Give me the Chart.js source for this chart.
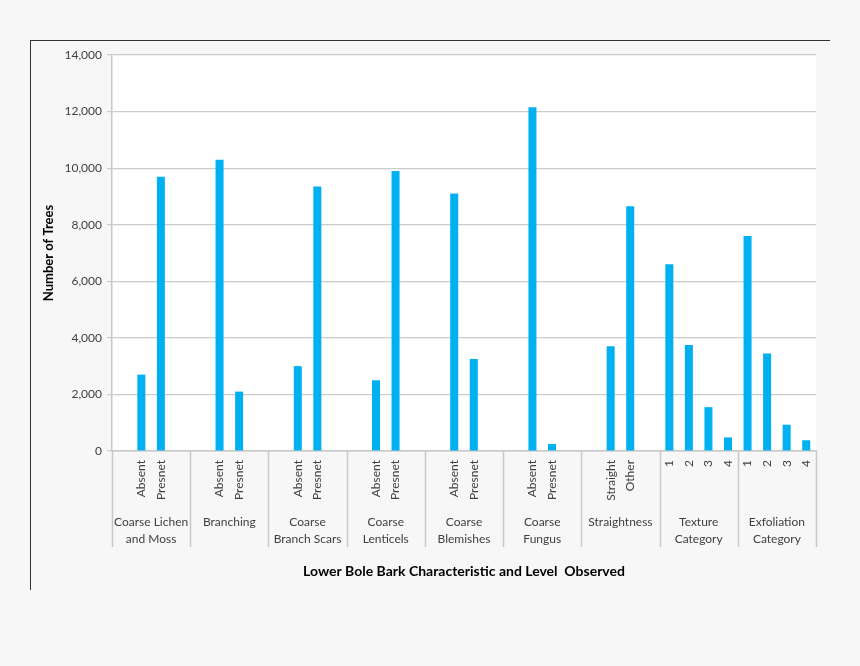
<!DOCTYPE html>
<html>
<head>
<meta charset="utf-8">
<script src="https://cdn.jsdelivr.net/npm/chart.js@4/dist/chart.umd.min.js"></script>
<style>
  html, body { margin: 0; padding: 0; background: #f7f7f7; }
  #wrap { position: relative; width: 860px; height: 666px; }
  #frame { position: absolute; left: 30px; top: 40px; width: 800px; height: 550px;
           border-top: 1px solid #333; border-left: 1px solid #333; box-sizing: border-box; pointer-events: none; }
  canvas { position: absolute; left: 0; top: 0; }
</style>
</head>
<body>
<div id="wrap">
  <canvas id="c" width="860" height="666"></canvas>
  <div id="frame"></div>
</div>
<script>
// ---- data ----
const groupNames = [
  ["Coarse Lichen", "and Moss"],
  ["Branching"],
  ["Coarse", "Branch Scars"],
  ["Coarse", "Lenticels"],
  ["Coarse", "Blemishes"],
  ["Coarse", "Fungus"],
  ["Straightness"],
  ["Texture", "Category"],
  ["Exfoliation", "Category"]
];
const slotsPerGroup = 4;
const levelLabels = [
  "", "Absent", "Presnet", "",
  "", "Absent", "Presnet", "",
  "", "Absent", "Presnet", "",
  "", "Absent", "Presnet", "",
  "", "Absent", "Presnet", "",
  "", "Absent", "Presnet", "",
  "", "Straight", "Other", "",
  "1", "2", "3", "4",
  "1", "2", "3", "4"
];
const treeCounts = [
  null, 2700, 9700, null,
  null, 10300, 2100, null,
  null, 3000, 9350, null,
  null, 2500, 9900, null,
  null, 9100, 3250, null,
  null, 12150, 250, null,
  null, 3700, 8650, null,
  6600, 3750, 1550, 480,
  7600, 3450, 930, 380
];
const yMax = 14000;
const yStep = 2000;
const xTitle = "Lower Bole Bark Characteristic and Level  Observed";
const yTitle = "Number of Trees";

const FONT = "Lato, 'Open Sans', sans-serif";
const TXT = "#404040";

const groupPlugin = {
  id: 'groupPlugin',
  beforeDraw(chart) {
    const a = chart.chartArea, ctx = chart.ctx;
    ctx.save();
    ctx.fillStyle = '#ffffff';
    ctx.fillRect(a.left, a.top, a.right - a.left, a.bottom - a.top);
    ctx.restore();
  },
  afterDraw(chart) {
    const xs = chart.scales.x, a = chart.chartArea, ctx = chart.ctx;
    const n = levelLabels.length;
    const w = (xs.right - xs.left) / n;
    ctx.save();
    ctx.strokeStyle = '#c8c8c8';
    ctx.lineWidth = 1.5;
    for (let g = 0; g <= groupNames.length; g++) {
      const x = Math.round(xs.left + g * slotsPerGroup * w) + 0.5;
      ctx.beginPath();
      ctx.moveTo(x, a.bottom);
      ctx.lineTo(x, a.bottom + 96);
      ctx.stroke();
    }
    ctx.fillStyle = TXT;
    ctx.font = "12px " + FONT;
    ctx.textAlign = 'center';
    ctx.textBaseline = 'middle';
    groupNames.forEach((lines, g) => {
      const cx = xs.left + (g + 0.5) * slotsPerGroup * w;
      lines.forEach((t, i) => ctx.fillText(t, cx, a.bottom + 71 + i * 17));
    });
    ctx.restore();
  }
};

new Chart(document.getElementById('c'), {
  type: 'bar',
  data: {
    labels: levelLabels,
    datasets: [{
      data: treeCounts,
      backgroundColor: '#00b0f0',
      borderWidth: 0,
      categoryPercentage: 1.0,
      barPercentage: 0.41
    }]
  },
  options: {
    responsive: false,
    animation: false,
    events: [],
    layout: { padding: { left: 30, right: 44, top: 55, bottom: 0 } },
    plugins: { legend: { display: false }, tooltip: { enabled: false } },
    scales: {
      x: {
        afterFit(scale) { scale.height = 215; },
        grid: { display: false, drawTicks: false },
        border: { display: true, color: '#c8c8c8', width: 1.5 },
        ticks: {
          autoSkip: false, minRotation: 90, maxRotation: 90, padding: 9,
          color: TXT, font: { family: FONT, size: 12 }
        },
        title: {
          display: true, text: xTitle, color: '#000',
          font: { family: FONT, size: 14, weight: 'bold' },
          padding: { top: 0, bottom: 86 }
        }
      },
      y: {
        min: 0, max: yMax,
        afterFit(scale) { scale.width = 82; },
        grid: { color: '#cccccc', lineWidth: 1.2, tickLength: 5, drawTicks: true },
        border: { display: true, color: '#c8c8c8', width: 1.5 },
        ticks: {
          stepSize: yStep, padding: 5, color: TXT,
          font: { family: FONT, size: 12 },
          callback: v => v.toLocaleString('en-US')
        },
        title: {
          display: true, text: yTitle, color: '#000',
          font: { family: FONT, size: 13, weight: 'bold' },
          padding: { top: 11, bottom: 0 }
        }
      }
    }
  },
  plugins: [groupPlugin]
});
</script>
</body>
</html>
